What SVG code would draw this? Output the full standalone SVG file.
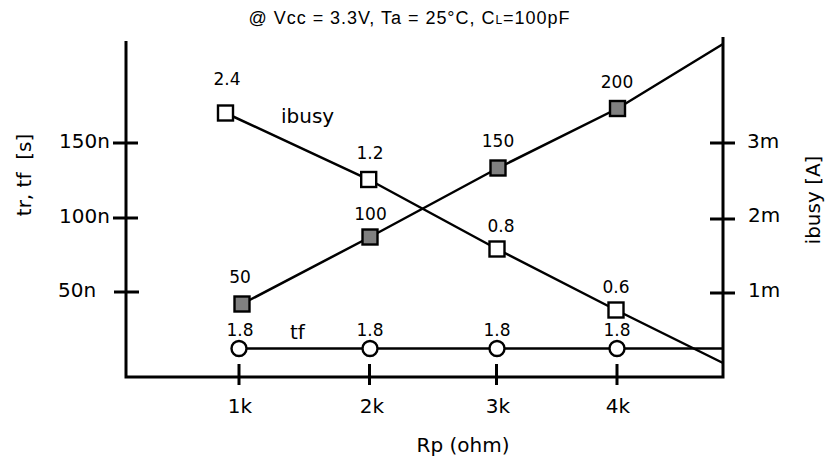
<svg xmlns="http://www.w3.org/2000/svg" width="829" height="462" viewBox="0 0 829 462">
<style>
.ax{stroke:#000;stroke-width:3;fill:none}
.ln{stroke:#000;stroke-width:2.5;fill:none}
.lbl{font-family:"DejaVu Sans",Verdana,sans-serif;font-size:20px;fill:#000}
.dat{font-family:"DejaVu Sans",Verdana,sans-serif;font-size:17px;fill:#000;text-anchor:middle}
.sqw{fill:#fff;stroke:#000;stroke-width:2.4}
.sqg{fill:#808080;stroke:#000;stroke-width:2.4}
.cir{fill:#fff;stroke:#000;stroke-width:2.4}
</style>
<rect width="829" height="462" fill="#fff"/>
<text x="409" y="24" text-anchor="middle" font-family="'Liberation Sans',Arial,sans-serif" font-size="18" textLength="321" lengthAdjust="spacing">@ Vcc = 3.3V, Ta = 25°C, C<tspan font-size="12">L</tspan>=100pF</text>
<g id="axes">
<path class="ax" d="M126,41 V377 H723 V37"/>
<path class="ax" d="M113,143 H138 M113,218 H138 M114,292 H139"/>
<path class="ax" d="M710,143 H735 M710,219 H735 M710,293 H735"/>
<path class="ax" d="M239,364 V385 M369.5,364 V385 M496.5,364 V385 M617,364 V385"/>
</g>
<g id="axis-labels">
<text class="lbl" x="59" y="148">150n</text>
<text class="lbl" x="59" y="223">100n</text>
<text class="lbl" x="58" y="297">50n</text>
<text class="lbl" x="747" y="148">3m</text>
<text class="lbl" x="748" y="222">2m</text>
<text class="lbl" x="748" y="297">1m</text>
<text class="lbl" x="240" y="413" text-anchor="middle">1k</text>
<text class="lbl" x="372" y="413" text-anchor="middle">2k</text>
<text class="lbl" x="498" y="413" text-anchor="middle">3k</text>
<text class="lbl" x="618" y="413" text-anchor="middle">4k</text>
<text class="lbl" x="463" y="452" text-anchor="middle">Rp (ohm)</text>
<text class="lbl" transform="translate(31,175) rotate(-90)" text-anchor="middle" xml:space="preserve">tr, tf  [s]</text>
<text class="lbl" transform="translate(820,200) rotate(-90)" text-anchor="middle">ibusy [A]</text>
</g>
<g id="connectors">
<polyline class="ln" points="242,304 370,237 498,168 617.5,108.5 723,44"/>
<polyline class="ln" points="225.5,113 368.7,179.5 497,249 616,310 723,363"/>
<polyline class="ln" points="239,348.5 723,348.5"/>
</g>
<g id="series-tr">
<rect class="sqg" x="234.5" y="296.5" width="15" height="15"/>
<rect class="sqg" x="362.5" y="229.5" width="15" height="15"/>
<rect class="sqg" x="490.5" y="160.5" width="15" height="15"/>
<rect class="sqg" x="610" y="101" width="15" height="15"/>
<text class="dat" x="240" y="283">50</text>
<text class="dat" x="370.5" y="220">100</text>
<text class="dat" x="498" y="147">150</text>
<text class="dat" x="617" y="88">200</text>
</g>
<g id="series-ibusy">
<rect class="sqw" x="218" y="105.5" width="15" height="15"/>
<rect class="sqw" x="361.2" y="172" width="15" height="15"/>
<rect class="sqw" x="489.5" y="241.5" width="15" height="15"/>
<rect class="sqw" x="608.5" y="302.5" width="15" height="15"/>
<text class="dat" x="227" y="85">2.4</text>
<text class="dat" x="370" y="159">1.2</text>
<text class="dat" x="501" y="232">0.8</text>
<text class="dat" x="616" y="293">0.6</text>
<text class="lbl" x="281" y="123">ibusy</text>
</g>
<g id="series-tf">
<circle class="cir" cx="239" cy="348.5" r="7.5"/>
<circle class="cir" cx="370" cy="348.5" r="7.5"/>
<circle class="cir" cx="497" cy="348.5" r="7.5"/>
<circle class="cir" cx="617" cy="348.5" r="7.5"/>
<text class="dat" x="240" y="336">1.8</text>
<text class="dat" x="370" y="336">1.8</text>
<text class="dat" x="497" y="336">1.8</text>
<text class="dat" x="617" y="336">1.8</text>
<text class="lbl" x="290" y="339">tf</text>
</g>
</svg>
